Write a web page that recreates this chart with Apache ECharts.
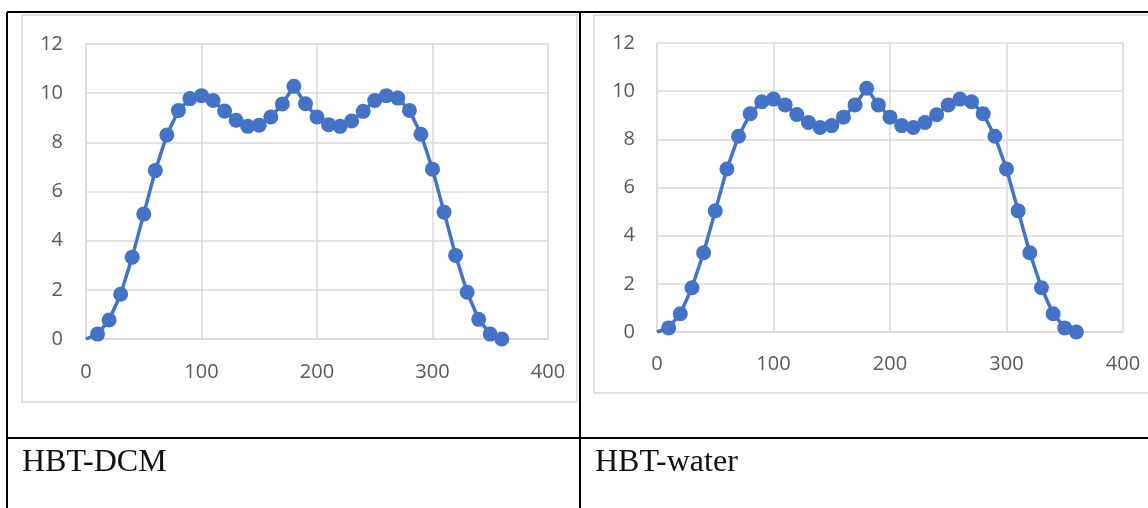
<!DOCTYPE html>
<html>
<head>
<meta charset="utf-8">
<style>
  html, body { margin: 0; padding: 0; background: #fff; }
  #chart { width: 1148px; height: 508px; }
</style>
<script src="https://cdn.jsdelivr.net/npm/echarts@6/dist/echarts.min.js"></script>
</head>
<body>
<div id="chart"></div>
<script>
// Angle positions (x) shared by both panels
const angles = [0, 10, 20, 30, 40, 50, 60, 70, 80, 90, 100, 110, 120, 130, 140, 150, 160, 170, 180,
  190, 200, 210, 220, 230, 240, 250, 260, 270, 280, 290, 300, 310, 320, 330, 340, 350, 360];

// HBT in dichloromethane
const hbtDcm = [0, 0.2, 0.77, 1.82, 3.33, 5.08, 6.85, 8.3, 9.29, 9.78, 9.9, 9.7, 9.27, 8.9, 8.65, 8.7,
  9.03, 9.56, 10.28, 9.57, 9.03, 8.72, 8.65, 8.87, 9.26, 9.7, 9.9, 9.8, 9.3, 8.33, 6.91, 5.16, 3.4,
  1.9, 0.8, 0.2, 0.0];

// HBT in water
const hbtWater = [0, 0.17, 0.76, 1.84, 3.29, 5.03, 6.77, 8.13, 9.06, 9.56, 9.67, 9.43, 9.03, 8.7, 8.49,
  8.57, 8.92, 9.43, 10.12, 9.43, 8.92, 8.57, 8.49, 8.7, 9.02, 9.43, 9.67, 9.56, 9.06, 8.13, 6.77, 5.03,
  3.29, 1.84, 0.76, 0.17, 0.0];

const captions = ['HBT-DCM', 'HBT-water'];

const blue = '#4472C4';
const gridColor = '#d9d9d9';
const labelColor = '#595959';
const labelFont = 'Open Sans';

function toPoints(ys) {
  return angles.map((a, i) => {
    const p = { value: [a, ys[i]] };
    if (i === 0) p.symbol = 'none';
    return p;
  });
}

function xAxis(gridIndex, margin) {
  return {
    type: 'value', gridIndex, min: 0, max: 400, interval: 100,
    axisLine: { show: true, lineStyle: { color: gridColor, width: 1.5 } },
    axisTick: { show: false },
    splitLine: { show: true, lineStyle: { color: gridColor, width: 1.5 } },
    axisLabel: { color: labelColor, fontFamily: labelFont, fontSize: 20, margin }
  };
}

function yAxis(gridIndex, margin) {
  return {
    type: 'value', gridIndex, min: 0, max: 12, interval: 2,
    axisLine: { show: true, lineStyle: { color: gridColor, width: 1.5 } },
    axisTick: { show: false },
    splitLine: { show: true, lineStyle: { color: gridColor, width: 1.5 } },
    axisLabel: { color: labelColor, fontFamily: labelFont, fontSize: 20, margin }
  };
}

function lineSeries(idx, ys) {
  return {
    type: 'line', xAxisIndex: idx, yAxisIndex: idx,
    data: toPoints(ys),
    symbol: 'circle', symbolSize: 15,
    showAllSymbol: true,
    lineStyle: { color: blue, width: 3.5 },
    itemStyle: { color: blue },
    animation: false
  };
}

const black = '#000';
const option = {
  animation: false,
  grid: [
    { left: 86, top: 44, width: 462, height: 295 },
    { left: 657, top: 43, width: 466, height: 289 }
  ],
  xAxis: [xAxis(0, 23), xAxis(1, 22)],
  yAxis: [yAxis(0, 23), yAxis(1, 22)],
  series: [lineSeries(0, hbtDcm), lineSeries(1, hbtWater)],
  graphic: [
    // chart frames
    { type: 'rect', shape: { x: 22, y: 15, width: 555, height: 387 },
      style: { fill: null, stroke: gridColor, lineWidth: 1.5 }, z: -1 },
    { type: 'rect', shape: { x: 594, y: 15, width: 570, height: 378 },
      style: { fill: null, stroke: gridColor, lineWidth: 1.5 }, z: -1 },
    // table rules
    { type: 'line', shape: { x1: 7, y1: 12, x2: 1148, y2: 12 }, style: { stroke: black, lineWidth: 2 } },
    { type: 'line', shape: { x1: 7, y1: 12, x2: 7, y2: 508 }, style: { stroke: black, lineWidth: 2 } },
    { type: 'line', shape: { x1: 580, y1: 12, x2: 580, y2: 508 }, style: { stroke: black, lineWidth: 2 } },
    { type: 'line', shape: { x1: 7, y1: 438, x2: 1148, y2: 438 }, style: { stroke: black, lineWidth: 2 } },
    // captions
    { type: 'text', x: 22, y: 463,
      style: { text: captions[0], fill: '#111', font: '32px "Liberation Serif"', verticalAlign: 'middle', align: 'left' } },
    { type: 'text', x: 595, y: 463,
      style: { text: captions[1], fill: '#111', font: '32px "Liberation Serif"', verticalAlign: 'middle', align: 'left' } }
  ]
};

const chart = echarts.init(document.getElementById('chart'), null, { renderer: 'canvas' });
chart.setOption(option);
</script>
</body>
</html>
